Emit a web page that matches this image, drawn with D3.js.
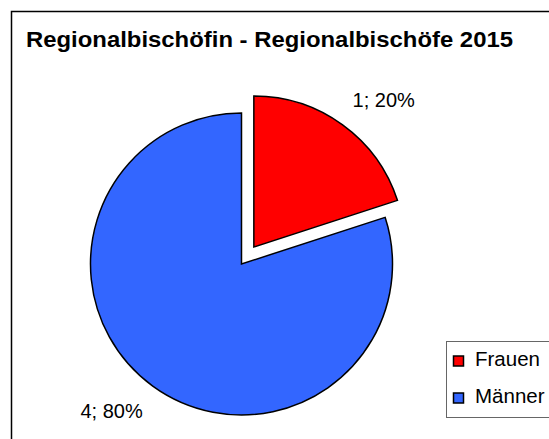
<!DOCTYPE html>
<html lang="de">
<head>
<meta charset="utf-8">
<title>Regionalbischöfin - Regionalbischöfe 2015</title>
<script type="text/javascript" src="https://d3js.org/d3.v7.min.js"></script>
<style>
body { margin: 0; background: #fff; }
text { font-family: "Liberation Sans", Arial, sans-serif; fill: #000; }
</style>
</head>
<body>
<div id="chart"></div>
<script type="text/javascript">

var titleText = "Regionalbischöfin - Regionalbischöfe 2015";
var categories = ["Frauen", "Männer"];
var values = [1, 4];
var colors = ["#ff0000", "#3366ff"];
var exploded = [21, 0];

var width = 549, height = 439;

var svg = d3.select("#chart").append("svg")
    .attr("width", width)
    .attr("height", height);

// chart frame (runs off the right and bottom edge)
svg.append("rect")
    .attr("x", 11.5)
    .attr("y", 11.5)
    .attr("width", 560)
    .attr("height", 460)
    .attr("fill", "#fff")
    .attr("stroke", "#000")
    .attr("stroke-width", 1.5);

svg.append("text")
    .attr("x", 26)
    .attr("y", 47)
    .style("font-size", "21.5px")
    .style("font-weight", "bold")
    .attr("textLength", 487)
    .attr("lengthAdjust", "spacingAndGlyphs")
    .text(titleText);

var total = d3.sum(values);
var format = d3.format(".0%");

var pie = d3.pie()
    .sort(null)
    .value(function(d) { return d; });

var radius = 151;
var arc = d3.arc().innerRadius(0).outerRadius(radius);
var labelArc = d3.arc().innerRadius(196).outerRadius(196);

var root = svg.append("g")
    .attr("transform", "translate(241.5,264)");

var slices = pie(values);

function offset(d, i) {
    var a = (d.startAngle + d.endAngle) / 2;
    return [Math.sin(a) * exploded[i], -Math.cos(a) * exploded[i]];
}

var slice = root.selectAll(".slice")
    .data(slices)
    .enter().append("g")
        .attr("class", "slice")
        .attr("transform", function(d, i) {
            var o = offset(d, i);
            return "translate(" + o[0] + "," + o[1] + ")";
        });

slice.append("path")
    .attr("d", arc)
    .attr("fill", function(d, i) { return colors[i]; })
    .attr("stroke", "#000")
    .attr("stroke-width", 1.5)
    .attr("stroke-linejoin", "miter");

// labels sit a little clockwise of the mid angle, as in the original
slice.append("text")
    .attr("transform", function(d) {
        var shift = 5.5 * Math.PI / 180;
        var c = labelArc.centroid({startAngle: d.startAngle + shift, endAngle: d.endAngle + shift});
        return "translate(" + c[0] + "," + c[1] + ")";
    })
    .attr("text-anchor", "middle")
    .attr("dy", "0.35em")
    .style("font-size", "20px")
    .text(function(d) { return d.data + "; " + format(d.data / total); });

// legend
var legend = svg.append("g")
    .attr("transform", "translate(446,341)");

legend.append("rect")
    .attr("x", 0.5)
    .attr("y", 0.5)
    .attr("width", 120)
    .attr("height", 76)
    .attr("fill", "#fff")
    .attr("stroke", "#666")
    .attr("stroke-width", 1);

var item = legend.selectAll(".item")
    .data(categories)
    .enter().append("g")
        .attr("class", "item")
        .attr("transform", function(d, i) { return "translate(0," + (i * 37) + ")"; });

item.append("rect")
    .attr("x", 7.5)
    .attr("y", 15)
    .attr("width", 10)
    .attr("height", 10)
    .attr("fill", function(d, i) { return colors[i]; })
    .attr("stroke", "#000")
    .attr("stroke-width", 1.5);

item.append("text")
    .attr("x", 29)
    .attr("y", 25)
    .style("font-size", "20.5px")
    .text(function(d) { return d; });

</script>
</body>
</html>
